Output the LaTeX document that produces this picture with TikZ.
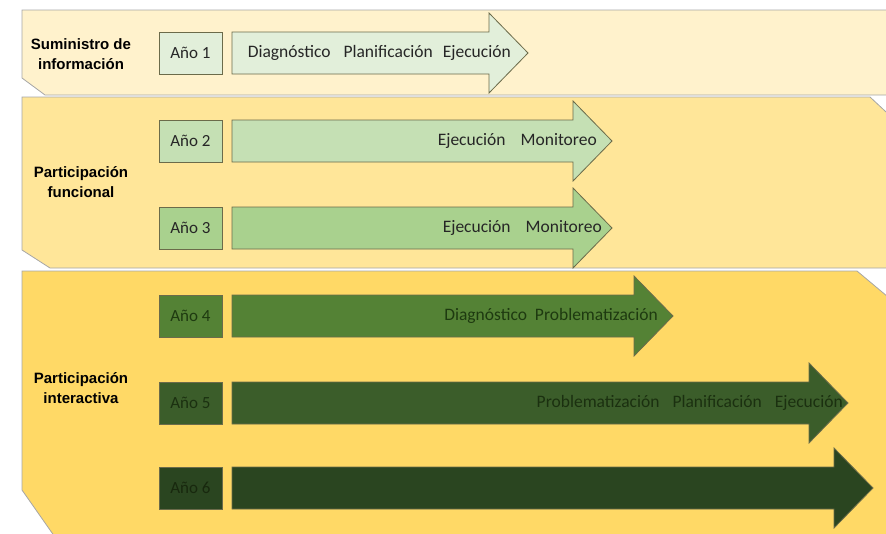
\documentclass[tikz,border=0pt]{standalone}
\usepackage{fontspec}
\setmainfont{Carlito}
\newfontfamily\bandfont{Liberation Sans}
\usepackage{xcolor}

\definecolor{bandA}{HTML}{FFF2CC}
\definecolor{bandB}{HTML}{FFE699}
\definecolor{bandC}{HTML}{FFD966}
\definecolor{bandedge}{HTML}{A6A6A6}
\definecolor{edge}{HTML}{6B6B4A}
\definecolor{yrA}{HTML}{E2EFDA}
\definecolor{yrB}{HTML}{C5E0B4}
\definecolor{yrC}{HTML}{A9D18E}
\definecolor{yrD}{HTML}{548235}
\definecolor{yrE}{HTML}{3B5D2A}
\definecolor{yrF}{HTML}{2A4520}
\definecolor{txtD}{HTML}{1E3A10}
\definecolor{txtE}{HTML}{1B3010}
\definecolor{txtF}{HTML}{18280E}

% arrow: fill, mid y, tip x
\newcommand{\yeararrow}[3]{%
  \filldraw[arr, fill=#1] (232,{#2-21}) -- ({#3-39},{#2-21}) -- ({#3-39},{#2-40})
    -- (#3,#2) -- ({#3-39},{#2+40}) -- ({#3-39},{#2+21}) -- (232,{#2+21}) -- cycle;}

\begin{document}
\begin{tikzpicture}[
      x=1pt, y=-1pt,
      band/.style={draw=bandedge, line width=0.8pt},
      lbl/.style={font=\bandfont\bfseries\fontsize{15}{19.5}\selectfont, align=center, text=black},
      yearbox/.style={draw=edge, line width=0.8pt, minimum width=63pt, minimum height=42pt,
                      inner sep=0pt, font=\fontsize{17}{20}\selectfont, text=black!85},
      arr/.style={draw=edge, line width=0.8pt},
      phase/.style={anchor=east, inner sep=0pt, font=\fontsize{17.5}{20}\selectfont, text=black!85}]
    \useasboundingbox (0,0) rectangle (886,533);
    \clip (0,0) rectangle (886,533);
    % bands
    \filldraw[band, fill=bandA] (22,10) -- (900,10) -- (900,95) -- (45,95) -- (22,78) -- cycle;
    \filldraw[band, fill=bandB] (22,97) -- (870,97) -- (900,125) -- (900,268) -- (50,268) -- (22,250) -- cycle;
    \filldraw[band, fill=bandC] (22,271) -- (857,271) -- (900,307) -- (900,560) -- (71,560) -- (22,490) -- cycle;
    % band labels
    \node[lbl] (sum) at (81,54) {Suministro de\\información};
    \node[lbl] (fun) at (81,182) {Participación\\funcional};
    \node[lbl] (int) at (81,388) {Participación\\interactiva};
    % arrows (mid y, tip x)
    \yeararrow{yrA}{53}{528}
    \yeararrow{yrB}{141}{612}
    \yeararrow{yrC}{228}{612}
    \yeararrow{yrD}{316}{673}
    \yeararrow{yrE}{403}{848}
    \yeararrow{yrF}{488}{873}
    % year boxes
    \node[yearbox, fill=yrA] (y1) at (190.5,53) {Año 1};
    \node[yearbox, fill=yrB] (y2) at (190.5,141) {Año 2};
    \node[yearbox, fill=yrC] (y3) at (190.5,228) {Año 3};
    \node[yearbox, fill=yrD, text=txtD] (y4) at (190.5,316) {Año 4};
    \node[yearbox, fill=yrE, text=txtE] (y5) at (190.5,403) {Año 5};
    \node[yearbox, fill=yrF, text=txtF] (y6) at (190.5,488) {Año 6};
    % phases
    \node[phase] (p1) at (511,53) {Diagnóstico\hspace{13pt}Planificación\hspace{10pt}Ejecución};
    \node[phase] (p2) at (597,141) {Ejecución\hspace{15pt}Monitoreo};
    \node[phase] (p3) at (602,228) {Ejecución\hspace{15pt}Monitoreo};
    \node[phase, text=txtD] (p4) at (658,316) {Diagnóstico\hspace{8pt}Problematización};
    \node[phase, text=txtE] (p5) at (843,403) {Problematización\hspace{13pt}Planificación\hspace{13pt}Ejecución};
  \end{tikzpicture}
\end{document}
